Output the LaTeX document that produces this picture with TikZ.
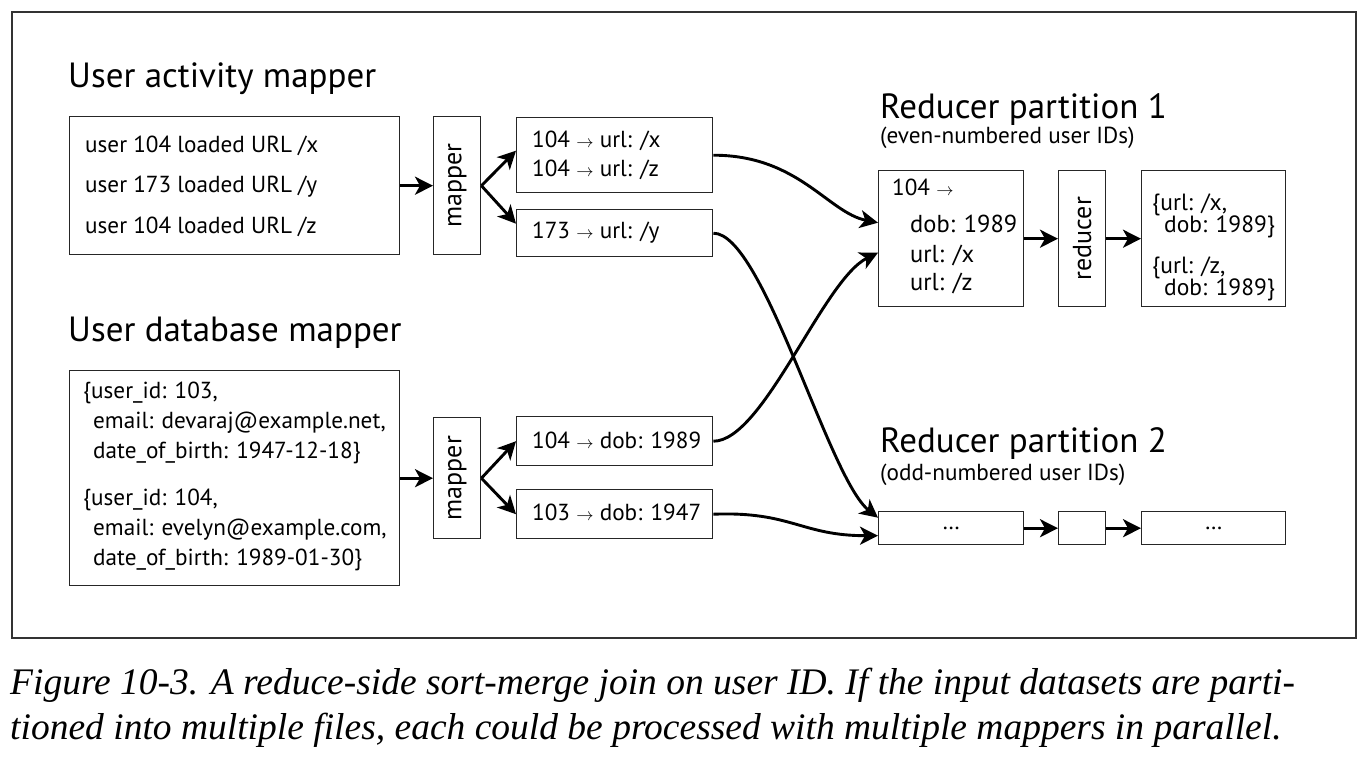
\documentclass[tikz,border=0pt]{standalone}
\usepackage{fontspec}
\setmainfont{PT Sans}
\newfontfamily\capfont{Liberation Serif}
\usetikzlibrary{arrows.meta}
% small text arrow used inside the key/value boxes
\newcommand{\kvarrow}{{\fontsize{18}{18}\selectfont\(\rightarrow\)}}

\begin{document}
\begin{tikzpicture}[x=1pt,y=-1pt,
  box/.style={draw=black!85, line width=1.4pt, inner sep=0pt, anchor=north west},
  txt/.style={anchor=base west, inner sep=0pt, font=\fontsize{23.2}{27}\selectfont},
  big/.style={anchor=base west, inner sep=0pt, font=\fontsize{24.5}{28}\selectfont},
  outtxt/.style={anchor=base west, inner sep=0pt, font=\fontsize{23.5}{27}\selectfont},
  ttl/.style={anchor=base west, inner sep=0pt, font=\fontsize{35}{40}\selectfont},
  vert/.style={inner sep=0pt, rotate=90, font=\fontsize{26}{30}\selectfont},
  arr/.style={line width=2.9pt, -{Stealth[length=18pt,width=18pt,inset=5pt]}},
  caption/.style={anchor=base west, inner sep=0pt, font=\capfont\itshape\fontsize{37.5}{42}\selectfont},
]
\useasboundingbox (0,0) rectangle (1368,760);
\draw[line width=1.2pt, draw=black!80] (12,12) rectangle (1356,638);

% ---- user activity side
\node[ttl] (t1) at (68,88) {User activity mapper};
\node[box, minimum width=330pt, minimum height=138pt] (act) at (69,116) {};
\node[txt] (a1) at (85,152) {user 104 loaded URL /x};
\node[txt] (a2) at (85,192) {user 173 loaded URL /y};
\node[txt] (a3) at (85,233) {user 104 loaded URL /z};
\node[box, minimum width=47pt, minimum height=138pt] (m1) at (433,116) {};
\node[vert] (m1t) at (m1.center) {mapper};
\node[box, minimum width=196pt, minimum height=75pt] (u1) at (516,117) {};
\node[txt] (u1a) at (532,147) {104 \kvarrow{} url: /x};
\node[txt] (u1b) at (532,176) {104 \kvarrow{} url: /z};
\node[box, minimum width=196pt, minimum height=47pt] (u2) at (516,209) {};
\node[txt] (u2a) at (532,238) {173 \kvarrow{} url: /y};

% ---- user database side
\node[ttl] (t2) at (68,341) {User database mapper};
\node[box, minimum width=330pt, minimum height=215pt] (db) at (69,370) {};
\node[txt] (b1) at (83,398) {\{user\_id: 103,};
\node[txt] (b2) at (93,428) {email: devaraj@example.net,};
\node[txt] (b3) at (93,458) {date\_of\_birth: 1947-12-18\}};
\node[txt] (b4) at (83,505) {\{user\_id: 104,};
\node[txt] (b5) at (93,535) {email: evelyn@example.com,};
\node[txt] (b6) at (93,565) {date\_of\_birth: 1989-01-30\}};
\node[box, minimum width=47pt, minimum height=121pt] (m2) at (433,417) {};
\node[vert] (m2t) at (m2.center) {mapper};
\node[box, minimum width=196pt, minimum height=49pt] (d1) at (516,416) {};
\node[txt] (d1a) at (532,448) {104 \kvarrow{} dob: 1989};
\node[box, minimum width=196pt, minimum height=49pt] (d2) at (516,489) {};
\node[txt] (d2a) at (532,520) {103 \kvarrow{} dob: 1947};

% ---- reducer partition 1
\node[ttl] (t3) at (880,118) {Reducer partition 1};
\node[txt] (t3s) at (880,143) {(even-numbered user IDs)};
\node[box, minimum width=145pt, minimum height=136pt] (p1) at (878,170) {};
\node[txt] (p1a) at (892,195) {104 \kvarrow};
\node[big] (p1b) at (910,232) {dob: 1989};
\node[big] (p1c) at (910,262) {url: /x};
\node[big] (p1d) at (910,290) {url: /z};
\node[box, minimum width=47pt, minimum height=136pt] (r1) at (1058,170) {};
\node[vert] (r1t) at (r1.center) {reducer};
\node[box, minimum width=144pt, minimum height=136pt] (o1) at (1141,170) {};
\node[outtxt] (o1a) at (1152,210) {\{url: /x,};
\node[outtxt] (o1b) at (1164,232) {dob: 1989\}};
\node[outtxt] (o1c) at (1152,273) {\{url: /z,};
\node[outtxt] (o1d) at (1164,295) {dob: 1989\}};

% ---- reducer partition 2
\node[ttl] (t4) at (880,452) {Reducer partition 2};
\node[txt] (t4s) at (880,480) {(odd-numbered user IDs)};
\node[box, minimum width=145pt, minimum height=33pt] (p2) at (878,511) {};
\node[txt, anchor=center] (p2t) at (p2.center) {\dots};
\node[box, minimum width=47pt, minimum height=33pt] (r2) at (1058,511) {};
\node[box, minimum width=144pt, minimum height=33pt] (o2) at (1141,511) {};
\node[txt, anchor=center] (o2t) at (o2.center) {\dots};

% ---- connectors
\draw[arr] (act.east) -- (m1.west);
\draw[arr] (m1.east) -- ([yshift=4.5pt]u1.west);
\draw[arr] (m1.east) -- ([yshift=9.5pt]u2.west);
\draw[arr] (db.east) -- (m2.west);
\draw[arr] (m2.east) -- (d1.west);
\draw[arr] (m2.east) -- (d2.west);

\draw[arr] (u1.east) .. controls +(85,0) and +(-50,-10) .. ([yshift=16pt]p1.west);
\draw[arr] (u2.east) .. controls +(50,0) and +(-50,-40) .. ([yshift=10.5pt]p2.west);
\draw[arr] (d1.east) .. controls +(50,0) and +(-55,27) .. ([yshift=-14pt]p1.west);
\draw[arr] (d2.east) .. controls +(78,-3) and +(-77,0) .. ([yshift=-7.5pt]p2.west);

\draw[arr] (p1.east) -- (r1.west);
\draw[arr] (r1.east) -- (o1.west);
\draw[arr] (p2.east) -- (r2.west);
\draw[arr] (r2.east) -- (o2.west);

% ---- caption
\node[caption] (c1) at (10,694)
  {Figure 10-3. A reduce-side sort-merge join on user ID. If the input datasets are parti-};
\node[caption] (c2) at (10,739)
  {tioned into multiple files, each could be processed with multiple mappers in parallel.};
\end{tikzpicture}
\end{document}
